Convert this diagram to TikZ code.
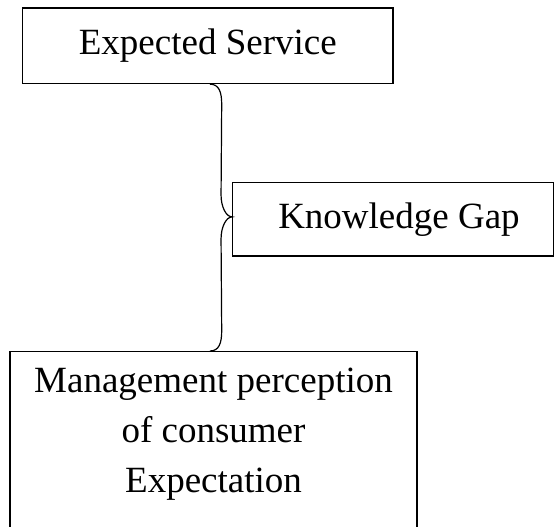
\documentclass[tikz,border=0pt]{standalone}
\usepackage{fontspec}
\setmainfont{Liberation Serif}
\usetikzlibrary{calc}
\begin{document}
\begin{tikzpicture}[x=1pt,y=-1pt,
  box/.style={draw, line width=1.3pt, inner sep=0pt, font=\fontsize{37}{50}\selectfont},
  brc/.style={line width=1.2pt}]
\useasboundingbox (0,0) rectangle (555,527);
\clip (0,0) rectangle (555,527);
\node[box, minimum width=370.5pt, minimum height=75.5pt] (exp) at (207.75,45.75) {Expected Service};
\node[box, minimum width=321pt, minimum height=73.3pt] (kg) at (393.3,219.4) {\hspace*{11.4pt}Knowledge Gap};
\node[box, anchor=north, minimum width=407pt, minimum height=250pt] (mgmtbox) at (213.5,351) {};
\node[font=\fontsize{37}{50}\selectfont, align=center, anchor=north, inner sep=0pt] (mgmt) at (213.5,367.5) {Management perception\\of consumer\\Expectation};
\coordinate (b1) at ([xshift=2.25pt]exp.south);
\coordinate (b2) at ([xshift=-3.5pt]mgmtbox.north);
\coordinate (tip) at ([yshift=2.5pt]kg.west);
\draw[brc] (b1) .. controls +(9,0) and +(0,-12) .. ($(b1)+(11.7,20)$)
  -- ($(tip)+(-11.1,-22)$) .. controls +(0,12) and +(-6,0) .. (tip)
  .. controls +(-6,0) and +(0,-12) .. ($(tip)+(-11.1,22)$)
  -- ($(b2)+(11.7,-20)$) .. controls +(0,12) and +(9,0) .. (b2);
\end{tikzpicture}
\end{document}
